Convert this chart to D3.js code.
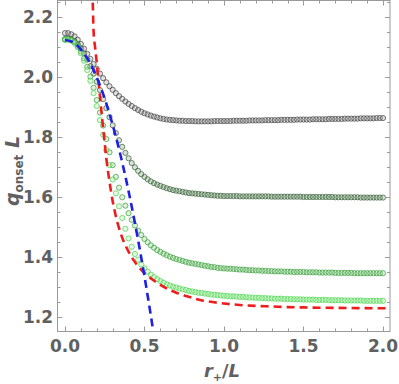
<!DOCTYPE html>
<html><head><meta charset="utf-8">
<script src="https://cdn.jsdelivr.net/npm/d3@7"></script>
<style>body{margin:0;background:#fff}svg{display:block}</style>
</head><body>
<svg id="c" width="399" height="384"></svg>
<script>
// sampling grid of r+/L (step 0.02, 0..2)
const rGrid = d3.range(0, 101).map(i => +(i * 0.02).toFixed(2));

const qBlack = [2.145,2.145,2.141,2.134,2.123,2.109,2.093,2.076,2.059,2.042,
 2.026,2.010,1.995,1.981,1.968,1.956,1.945,1.935,1.926,1.917,
 1.909,1.902,1.895,1.889,1.883,1.878,1.874,1.870,1.867,1.864,
 1.861,1.859,1.857,1.856,1.855,1.854,1.853,1.853,1.852,1.852,
 1.852,1.851,1.851,1.851,1.851,1.851,1.851,1.852,1.852,1.852,
 1.852,1.852,1.852,1.853,1.853,1.853,1.853,1.853,1.854,1.854,1.854,1.854,1.854,
 1.855,1.855,1.855,1.855,1.855,1.856,1.856,1.856,1.856,1.856,
 1.857,1.857,1.857,1.857,1.857,1.858,1.858,1.858,1.858,1.858,
 1.859,1.859,1.859,1.859,1.859,1.860,1.860,1.860,1.860,1.860,
 1.861,1.861,1.861,1.861,1.861,1.862,1.862,1.862];

const qDarkGreen = [2.125,2.126,2.124,2.118,2.108,2.094,2.077,2.057,2.035,2.010,
 1.983,1.955,1.925,1.895,1.865,1.838,1.812,1.788,1.766,1.746,
 1.728,1.712,1.698,1.686,1.675,1.666,1.658,1.651,1.645,1.640,
 1.636,1.632,1.628,1.625,1.622,1.620,1.618,1.616,1.614,1.612,
 1.611,1.610,1.609,1.608,1.607,1.606,1.605,1.604,1.603,1.603,
 1.602,1.602,1.602,1.602,1.602,
 1.601,1.601,1.601,1.601,1.601,1.601,1.601,1.601,1.601,1.601,
 1.600,1.600,1.600,1.600,1.600,1.600,1.600,1.600,1.600,1.600,
 1.599,1.599,1.599,1.599,1.599,1.599,1.599,1.599,1.599,1.599,
 1.598,1.598,1.598,1.598,1.598,1.598,1.598,1.598,
 1.597,1.597,1.597,1.597,1.597,1.597,1.597,1.597];

const qGreen = [2.124,2.125,2.122,2.115,2.102,2.084,2.061,2.033,2.000,1.963,
 1.922,1.880,1.837,1.792,1.748,1.705,1.666,1.630,1.598,1.570,
 1.545,1.523,1.504,1.487,1.472,1.459,1.448,1.438,1.430,1.422,
 1.416,1.410,1.405,1.400,1.396,1.392,1.389,1.386,1.383,1.380,
 1.378,1.376,1.374,1.372,1.370,1.368,1.366,1.365,1.363,1.362,
 1.361,1.360,1.360,1.359,1.358,1.357,1.357,1.356,1.355,1.355,
 1.354,1.354,1.353,1.353,1.352,1.352,1.351,1.351,1.351,1.350,
 1.350,1.350,1.349,1.349,1.349,1.349,1.348,1.348,1.348,1.348,
 1.347,1.347,1.347,1.347,1.347,1.346,1.346,1.346,1.346,1.346,
 1.346,1.345,1.345,1.345,1.345,1.345,1.345,1.345,1.345,1.345,
 1.345];

const qLightGreen = [2.122,2.123,2.120,2.112,2.098,2.078,2.053,2.022,1.986,1.945,
 1.902,1.855,1.806,1.755,1.705,1.657,1.611,1.568,1.529,1.493,
 1.461,1.433,1.409,1.390,1.374,1.361,1.350,1.340,1.332,1.325,
 1.319,1.313,1.308,1.304,1.300,1.297,1.294,1.291,1.289,1.286,
 1.284,1.282,1.280,1.279,1.277,1.276,1.274,1.273,1.272,1.271,
 1.270,1.269,1.268,1.268,1.267,1.266,1.266,1.265,1.264,1.264,
 1.263,1.263,1.262,1.262,1.261,1.261,1.260,1.260,1.260,1.259,
 1.259,1.259,1.258,1.258,1.258,1.257,1.257,1.257,1.257,1.256,
 1.256,1.256,1.256,1.255,1.255,1.255,1.255,1.255,1.254,1.254,
 1.254,1.254,1.254,1.254,1.253,1.253,1.253,1.253,1.253,1.253,
 1.253];

const redR = [0.168,0.172,0.176,0.18,0.19,0.20,0.21,0.22,0.23,0.24,0.25,0.26,0.28,0.30,0.32,0.34,0.36,0.38,0.40,
 0.42,0.44,0.46,0.48,0.50,0.55,0.60,0.65,0.70,0.75,0.80,0.85,0.90,1.0,1.1,1.2,1.3,1.4,1.5,1.6,1.8,2.0,2.04];
const redQ = [2.42,2.30,2.22,2.15,2.095,2.045,1.99,1.935,1.880,1.828,1.777,1.728,1.650,1.585,1.535,1.495,1.463,1.438,1.417,
 1.398,1.382,1.368,1.356,1.346,1.324,1.306,1.291,1.280,1.271,1.263,1.256,1.251,1.244,1.239,1.236,1.234,1.232,1.231,1.230,1.229,1.228,1.228];

const blueR = [0,0.04,0.08,0.12,0.16,0.20,0.24,0.28,0.32,0.36,0.40,0.44,0.48,0.52,0.56,0.58];
const blueQ = [2.122,2.117,2.102,2.077,2.042,1.997,1.942,1.876,1.800,1.714,1.618,1.512,1.396,1.270,1.134,1.06];

const xTicks = [0.0, 0.5, 1.0, 1.5, 2.0];
const yTicks = [1.2, 1.4, 1.6, 1.8, 2.0, 2.2];

const series = [
  {q: qBlack, color: "#3a3a3a", fill: "#9a9a9a"},
  {q: qDarkGreen, color: "#2d5a2d", fill: "#7fa07f"},
  {q: qGreen, color: "#2f9a2f", fill: "#8fd08f"},
  {q: qLightGreen, color: "#3fd23f", fill: "#a5eea5"}
];

const W = 399, H = 384;
const L = 57.5, R = 390, T = 0.5, B = 331.5;
const x = d3.scaleLinear().domain([-0.047, 2.044]).range([L, R]);
const y = d3.scaleLinear().domain([1.1507, 2.2537]).range([B, T]);

const svg = d3.select("#c");
svg.append("defs").append("clipPath").attr("id","clip")
  .append("rect").attr("x",L).attr("y",T).attr("width",R-L).attr("height",B-T);

const plot = svg.append("g").attr("clip-path","url(#clip)");

series.forEach(s => {
  plot.append("g").selectAll("circle").data(s.q).join("circle")
    .attr("cx", (d,i) => x(rGrid[i]))
    .attr("cy", d => y(d))
    .attr("r", 2.6)
    .attr("fill", s.fill).attr("fill-opacity", 0.3)
    .attr("stroke", s.color).attr("stroke-width", 0.9).attr("stroke-opacity", 0.75);
});

const line = d3.line().curve(d3.curveMonotoneX);
plot.append("path")
  .attr("d", line(redR.map((r,i)=>[x(r), y(redQ[i])])))
  .attr("fill","none").attr("stroke","#ee1c1c").attr("stroke-width",2.6)
  .attr("stroke-dasharray","8,5");
plot.append("path")
  .attr("d", line(blueR.map((r,i)=>[x(r), y(blueQ[i])])))
  .attr("fill","none").attr("stroke","#1f1fe6").attr("stroke-width",2.6)
  .attr("stroke-dasharray","8,5");

// frame
const frameColor = "#9a9a9a";
const fg = svg.append("g");
fg.append("rect").attr("x",L).attr("y",T).attr("width",R-L).attr("height",B-T)
  .attr("fill","none").attr("stroke",frameColor).attr("stroke-width",1);

const xMinor = d3.range(-4, 21).map(i => i/10).filter(v => v >= -0.047 && v <= 2.044);
const yMinor = d3.range(23, 46).map(i => i/20).filter(v => v >= 1.1507 && v <= 2.2537);
const isMajorX = v => Math.abs(v*2 - Math.round(v*2)) < 1e-6;
const isMajorY = v => Math.abs(v*5 - Math.round(v*5)) < 1e-6;

xMinor.forEach(v => {
  const len = isMajorX(v) ? 5 : 3;
  const px = Math.round(x(v)) + 0.5;
  fg.append("line").attr("x1",px).attr("x2",px).attr("y1",B).attr("y2",B-len).attr("stroke",frameColor);
  fg.append("line").attr("x1",px).attr("x2",px).attr("y1",T).attr("y2",T+len).attr("stroke",frameColor);
});
yMinor.forEach(v => {
  const len = isMajorY(v) ? 5 : 3;
  const py = Math.round(y(v)) + 0.5;
  fg.append("line").attr("y1",py).attr("y2",py).attr("x1",L).attr("x2",L+len).attr("stroke",frameColor);
  fg.append("line").attr("y1",py).attr("y2",py).attr("x1",R).attr("x2",R-len).attr("stroke",frameColor);
});

const labColor = "#606060";
const font = "'DejaVu Sans', sans-serif";
fg.selectAll(".xt").data(xTicks).join("text")
  .attr("x", d => x(d)).attr("y", 352)
  .attr("text-anchor","middle").attr("font-family",font).attr("font-weight","bold")
  .attr("font-size",17).attr("fill",labColor).text(d => d.toFixed(1));
fg.selectAll(".yt").data(yTicks).join("text")
  .attr("x", 53).attr("y", d => y(d) + 6)
  .attr("text-anchor","end").attr("font-family",font).attr("font-weight","bold")
  .attr("font-size",17).attr("fill",labColor).text(d => d.toFixed(1));

// x label
const xl = fg.append("text").attr("x", 222).attr("y", 377).attr("text-anchor","middle")
  .attr("font-family",font).attr("font-size",18).attr("font-weight","bold").attr("fill",labColor);
xl.append("tspan").attr("font-style","italic").text("r");
xl.append("tspan").attr("font-size",11).attr("dy",4).text("+");
xl.append("tspan").attr("dy",-4).text("/");
xl.append("tspan").attr("font-style","italic").text("L");

// y label
const yl = fg.append("text").attr("transform","translate(19,171) rotate(-90)").attr("text-anchor","middle")
  .attr("font-family",font).attr("font-size",19).attr("font-weight","bold").attr("fill",labColor);
yl.append("tspan").attr("font-style","italic").text("q");
yl.append("tspan").attr("font-size",12).attr("dy",4).text("onset");
yl.append("tspan").attr("dy",-4).text("\u00a0");
yl.append("tspan").attr("font-style","italic").text("L");
</script>
</body></html>
